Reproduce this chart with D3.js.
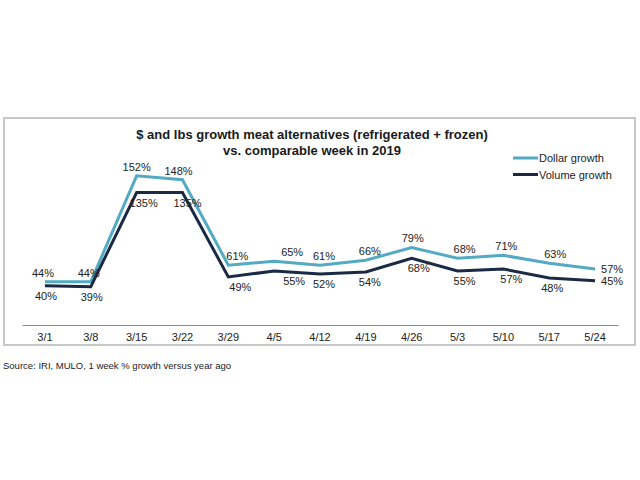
<!DOCTYPE html>
<html>
<head>
<meta charset="utf-8">
<script src="https://cdn.jsdelivr.net/npm/d3@7"></script>
<style>
  body { margin: 0; background: #fff; }
  svg { display: block; font-family: "Liberation Sans", Arial, sans-serif; }
</style>
</head>
<body>
<svg id="chart" width="640" height="480"></svg>
<script>
const weeks = ["3/1","3/8","3/15","3/22","3/29","4/5","4/12","4/19","4/26","5/3","5/10","5/17","5/24"];
const dollarGrowth = [44,44,152,148,61,65,61,66,79,68,71,63,57];
const volumeGrowth = [40,39,135,135,49,55,52,54,68,55,57,48,45];
const seriesNames = ["Dollar growth","Volume growth"];
const titleLines = ["$ and lbs growth meat alternatives (refrigerated + frozen)","vs. comparable week in 2019"];
const sourceText = "Source: IRI, MULO, 1 week % growth versus year ago";

// small horizontal nudges of the value labels, as placed in the original
const dollarLabelNudge = [-2,-2,0,-4,9,18,4,4,1,7,3,6,0];
const volumeLabelNudge = [1,1,7,5,12,20,4,4,7,7,8,3,0];

const svg = d3.select("#chart");
const colors = ["#52aac3", "#1b2a44"];

// frame
svg.append("rect").attr("x",4).attr("y",118).attr("width",631).attr("height",227)
  .attr("fill","#fff").attr("stroke","#c8c8c8").attr("stroke-width",2);

const x = d3.scaleBand().domain(weeks).range([22,618]);
const y = d3.scaleLinear().domain([0,160]).range([325,168]);
const cx = d => x(d) + x.bandwidth()/2;

// x axis
const xAxis = d3.axisBottom(x).tickSize(0).tickPadding(8);
const gx = svg.append("g").attr("transform","translate(0,325)").call(xAxis);
gx.select(".domain").attr("stroke","#8c8c8c").attr("stroke-width",1);
gx.selectAll("text").attr("font-size",11).attr("fill","#222").attr("font-family","Liberation Sans, Arial, sans-serif");

// title
svg.append("g").selectAll("text").data(titleLines).join("text")
  .attr("x",312).attr("y",(d,i)=>139+i*16)
  .attr("text-anchor","middle").attr("font-size",13).attr("font-weight","bold").attr("fill","#1a1a1a")
  .text(d=>d);

const line = d3.line().x((d,i)=>cx(weeks[i])).y(d=>y(d));
const data = [dollarGrowth, volumeGrowth];
const nudges = [dollarLabelNudge, volumeLabelNudge];

svg.append("g").selectAll("path").data(data).join("path")
  .attr("d",line).attr("fill","none")
  .attr("stroke",(d,i)=>colors[i]).attr("stroke-width",3).attr("stroke-linejoin","miter");

// labels
const n = weeks.length;
data.forEach((vals,si)=>{
  svg.append("g").selectAll("text").data(vals).join("text")
    .attr("x",(d,i)=> i===n-1 ? cx(weeks[i])+6 : cx(weeks[i]) + nudges[si][i])
    .attr("y",(d,i)=> {
      if (i===n-1) return y(d)+4;
      return si===0 ? y(d)-5 : y(d)+14;
    })
    .attr("text-anchor",(d,i)=> i===n-1 ? "start" : "middle")
    .attr("font-size",11).attr("fill","#222")
    .text(d=>d+"%");
});

// legend
const lg = svg.append("g").selectAll("g").data(seriesNames).join("g")
  .attr("transform",(d,i)=>`translate(513,${158+i*16.5})`);
lg.append("line").attr("x1",0).attr("x2",25).attr("y1",0).attr("y2",0)
  .attr("stroke",(d,i)=>colors[i]).attr("stroke-width",3);
lg.append("text").attr("x",26).attr("y",4).attr("font-size",11).attr("fill","#222").text(d=>d);

// source
svg.append("text").attr("x",3).attr("y",369).attr("font-size",9.5).attr("fill","#222").text(sourceText);
</script>
</body>
</html>
